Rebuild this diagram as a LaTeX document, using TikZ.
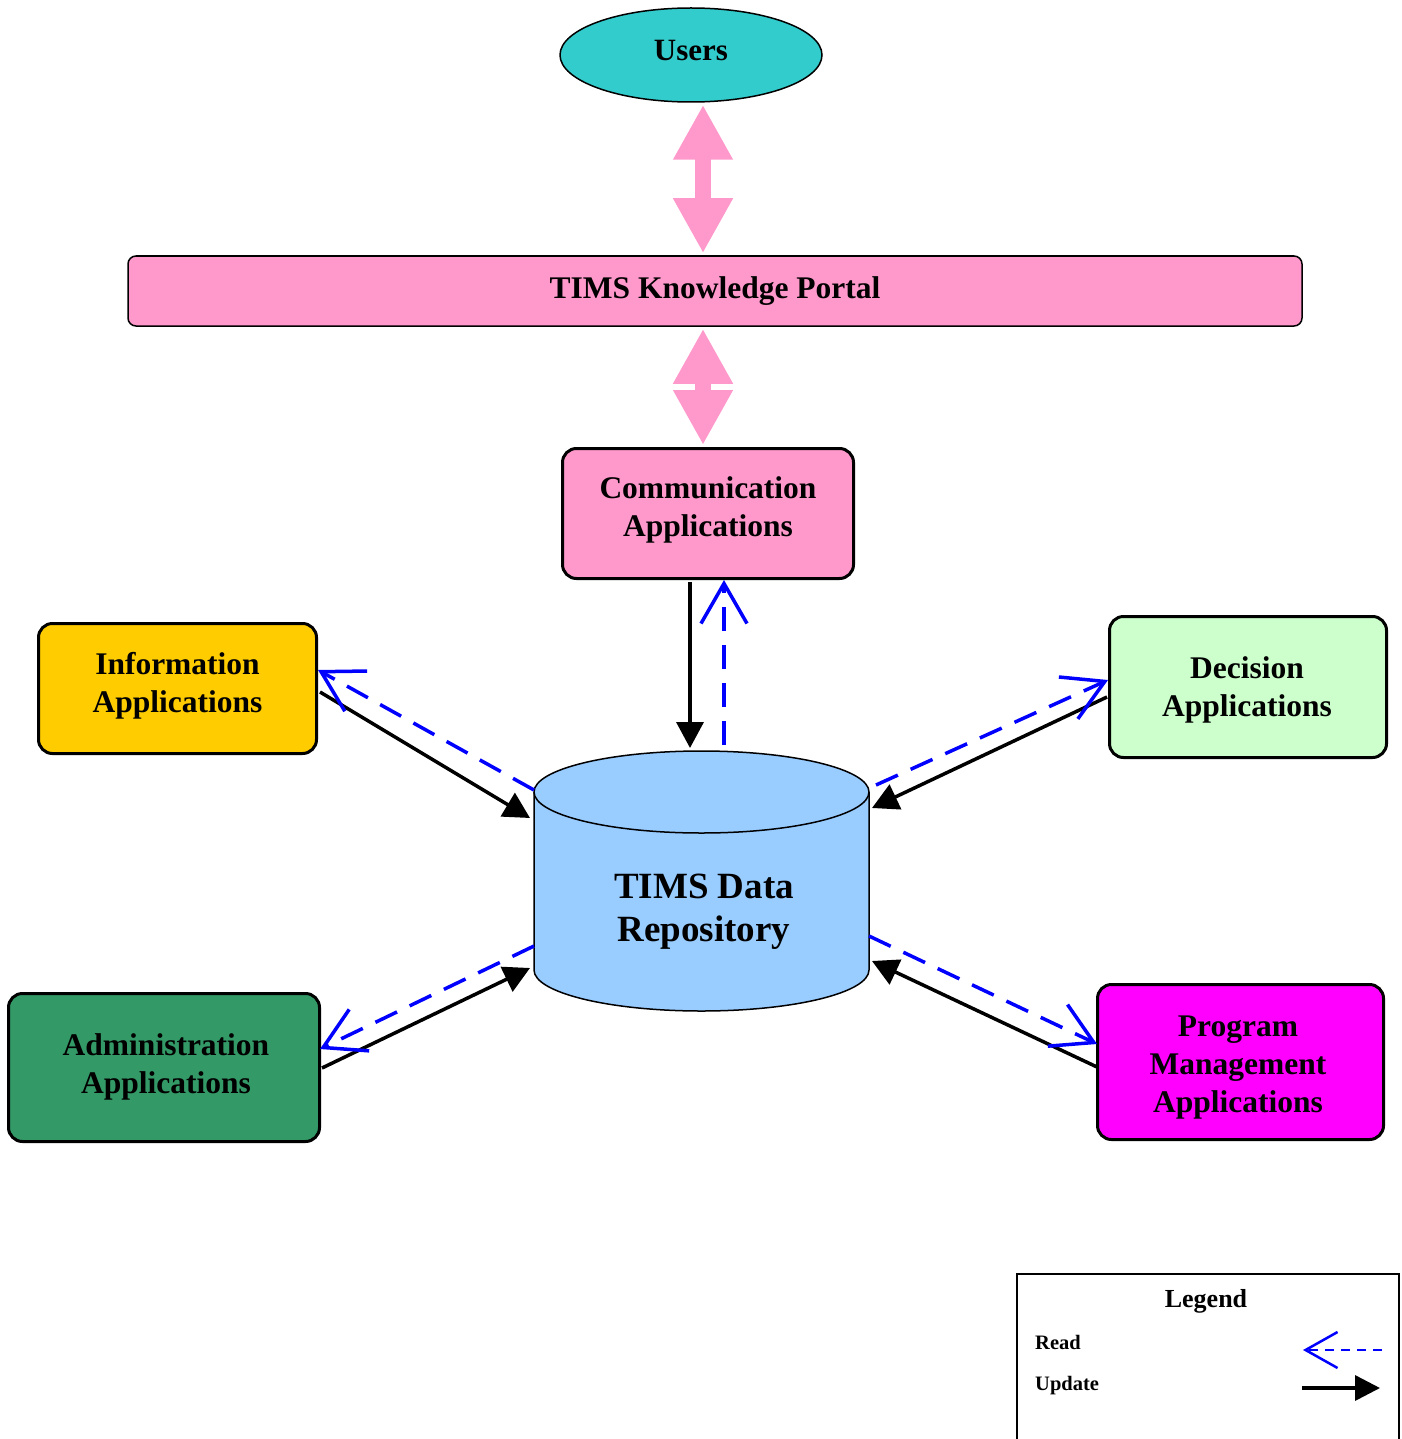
\documentclass[tikz,border=0pt]{standalone}
\usepackage{fontspec}
\setmainfont{Liberation Serif}
\usetikzlibrary{arrows.meta,calc,shapes.geometric}
\definecolor{usersc}{HTML}{33CCCC}
\definecolor{pinkc}{HTML}{FF99CC}
\definecolor{infoc}{HTML}{FFCC00}
\definecolor{decc}{HTML}{CCFFCC}
\definecolor{admc}{HTML}{339966}
\definecolor{progc}{HTML}{FF00FF}
\definecolor{repoc}{HTML}{99CCFF}
\definecolor{readc}{HTML}{0000FF}
\begin{document}
\begin{tikzpicture}[x=1pt,y=-1pt,
  appbox/.style={draw=black, line width=3pt, rounded corners=14pt, inner sep=0pt},
  apptext/.style={align=center, font=\fontsize{31.5}{38}\selectfont\bfseries, inner sep=0pt},
  upd/.style={draw=black, line width=3.5pt, -{Triangle[length=26pt,width=27pt]}},
  rd/.style={draw=readc, line width=3.5pt, dash pattern=on 24pt off 14pt,
    -{Straight Barb[length=40pt,width=46pt]}},
  bigarrow/.style={draw=pinkc, line width=16pt,
    {Triangle[length=55pt,width=56pt]}-{Triangle[length=55pt,width=56pt]}},
]
\useasboundingbox (0,0) rectangle (1401,1439);

% nodes
\node[draw=black, line width=1.5pt, fill=usersc, ellipse, minimum width=262, minimum height=94,
  inner sep=0pt, text depth=10pt, font=\fontsize{31}{37}\selectfont\bfseries] (users) at (691,55) {Users};
\node[draw=black, line width=1.5pt, fill=pinkc, rounded corners=8pt, minimum width=1174,
  minimum height=70, inner sep=0pt, font=\fontsize{31.5}{38}\selectfont\bfseries] (portal) at (715,291) {TIMS Knowledge Portal};
\node[appbox, fill=pinkc, minimum width=291, minimum height=130,
  label={[apptext, yshift=4pt]center:{Communication\\Applications}}] (comm) at (708,513.5) {};
\node[appbox, fill=infoc, minimum width=278, minimum height=130,
  label={[apptext, yshift=3pt]center:{Information\\Applications}}] (info) at (177.5,688.5) {};
\node[appbox, fill=decc, minimum width=277, minimum height=141,
  label={[apptext, yshift=-3pt, xshift=-1pt]center:{Decision\\Applications}}] (dec) at (1248,687) {};
\node[appbox, fill=admc, minimum width=311, minimum height=148,
  label={[apptext, yshift=1pt, xshift=2pt]center:{Administration\\Applications}}] (adm) at (164,1067.5) {};
\node[appbox, fill=progc, minimum width=286, minimum height=155,
  label={[apptext, yshift=-5.5pt, xshift=-2.5pt]center:{Program\\Management\\Applications}}] (prog) at (1240.5,1062) {};

% repository cylinder
\path[draw=black, line width=1.5pt, fill=repoc] (534,792) -- (534,970)
  arc[start angle=180, end angle=360, x radius=167.5pt, y radius=41pt] -- (869,792)
  arc[start angle=0, end angle=180, x radius=167.5pt, y radius=41pt] -- cycle;
\draw[line width=1.5pt] (534,792) arc[start angle=180, end angle=360, x radius=167.5pt, y radius=41pt];
\node[align=center, font=\fontsize{37}{43}\selectfont\bfseries, inner sep=0pt] (repo) at (704,911.5) {TIMS Data\\Repository};

% cylinder connection points
\coordinate (cN1) at (690,748);
\coordinate (cN2) at (724,745);
\coordinate (cI1) at (530,818);
\coordinate (cI2) at (534,790);
\coordinate (cD1) at (872,808);
\coordinate (cD2) at (876,785);
\coordinate (cA1) at (530,968);
\coordinate (cA2) at (534,946);
\coordinate (cP1) at (872,961);
\coordinate (cP2) at (869,936);

% big pink arrows
\draw[bigarrow] ($(users.south)+(12,2)$) -- ($(portal.north)+(-12,-2)$);
\draw[bigarrow] ($(portal.south)+(-12,2)$) -- ($(comm.north)+(-5,-2)$);

% communication
\draw[upd] ($(comm.south)+(-18,2)$) -- (cN1);
\draw[rd] (cN2) -- ($(comm.south)+(16,0)$);
% information
\draw[upd] ($(info.east)+(2,3.5)$) -- (cI1);
\draw[rd] (cI2) -- ($(info.east)+(0,-18.5)$);
% decision
\draw[upd] ($(dec.west)+(-1,10)$) -- (cD1);
\draw[rd] (cD2) -- ($(dec.west)+(0,-7)$);
% administration
\draw[upd] ($(adm.east)+(1,0.5)$) -- (cA1);
\draw[rd] (cA2) -- ($(adm.east)+(-1,-18.5)$);
% program management
\draw[upd] ($(prog.west)+(1,5)$) -- (cP1);
\draw[rd] (cP2) -- ($(prog.west)+(1,-18)$);

% legend
\node[draw=black, line width=2pt, minimum width=382, minimum height=200, inner sep=0pt,
  anchor=north west] (legend) at (1016,1273) {};
\node[font=\fontsize{26}{30}\selectfont\bfseries] (legtitle) at (1206,1301.5) {Legend};
\node[font=\fontsize{20.5}{24}\selectfont\bfseries, anchor=west, inner sep=0pt] (legread) at (1035,1342) {Read};
\node[font=\fontsize{20.5}{24}\selectfont\bfseries, anchor=west, inner sep=0pt] (legupd) at (1035,1386) {Update};
\coordinate (lr1) at (1382,1350);
\coordinate (lr2) at (1303,1350);
\coordinate (lu1) at (1302,1388);
\coordinate (lu2) at (1380,1388);
\draw[draw=readc, line width=2.5pt, dash pattern=on 9pt off 7pt,
  -{Straight Barb[length=32pt,width=36pt]}] (lr1) -- (lr2);
\draw[draw=black, line width=3.5pt, -{Triangle[length=25pt,width=25pt]}] (lu1) -- (lu2);
\end{tikzpicture}
\end{document}
